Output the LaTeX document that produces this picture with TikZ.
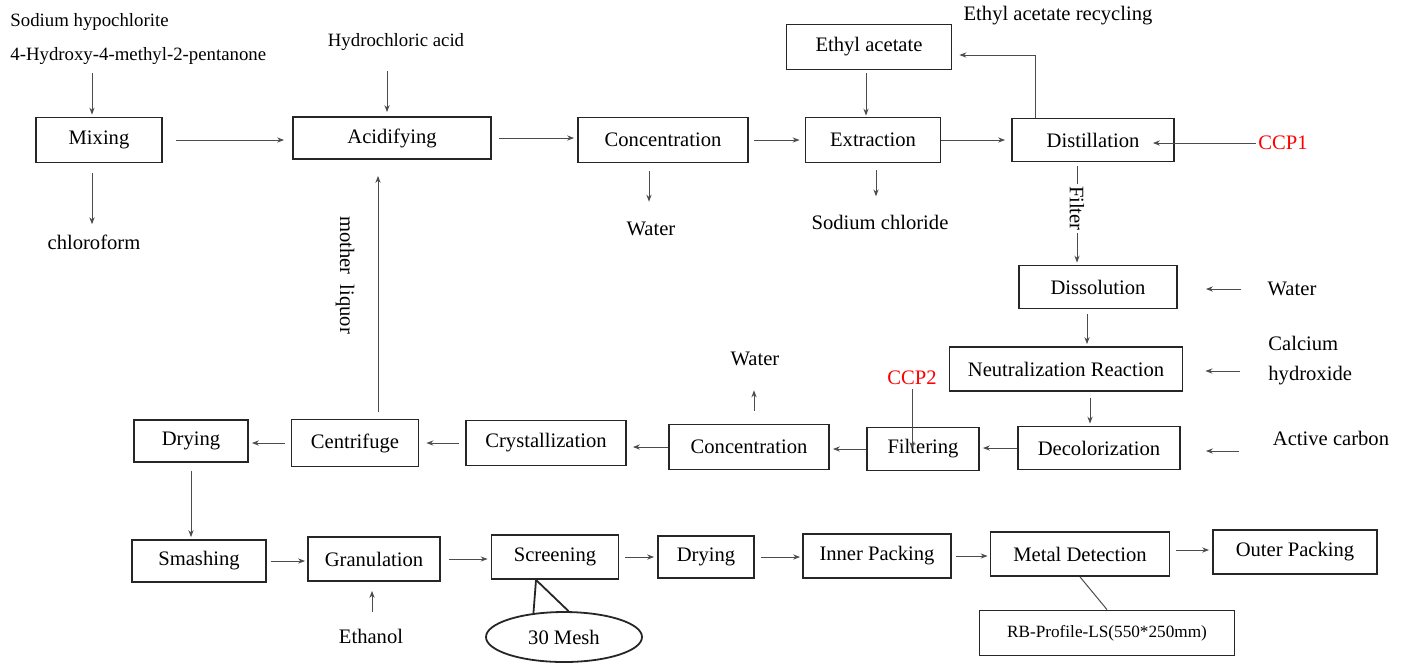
\documentclass[tikz,border=0pt]{standalone}
\usepackage{fontspec}
\setmainfont{Liberation Serif}
\usetikzlibrary{arrows.meta,shapes.geometric}
\begin{document}
\begin{tikzpicture}[x=0.5pt,y=-0.5pt,
box/.style={draw=black!85,line width=0.9pt,inner sep=0pt,font=\fontsize{10.3}{12}\selectfont},
lbl/.style={inner sep=1pt,font=\fontsize{10.3}{12}\selectfont},
slbl/.style={inner sep=1pt,font=\fontsize{9.4}{11}\selectfont},
ccp/.style={lbl,text=red},
arr/.style={-{Stealth[length=3.5pt,width=2.6pt]},line width=0.5pt,draw=black!70},
link/.style={line width=0.5pt,draw=black!70}]
\useasboundingbox (0,0) rectangle (1406,666);
% process boxes
\node[box,minimum width=63pt,minimum height=22.5pt](mix) at (99,140){Mixing};
\node[box,minimum width=99pt,minimum height=21pt](acid) at (392,138){Acidifying};
\node[box,minimum width=85pt,minimum height=22.5pt](conca) at (663,140){Concentration};
\node[box,minimum width=67.5pt,minimum height=22.5pt](extr) at (873,140){Extraction};
\node[box,minimum width=81pt,minimum height=21.5pt](dist) at (1093,140){Distillation};
\node[box,minimum width=82.5pt,minimum height=22.5pt](ethyl) at (869,47){Ethyl acetate};
\node[box,minimum width=79pt,minimum height=21.5pt](diss) at (1098,287){Dissolution};
\node[box,minimum width=116.5pt,minimum height=22pt](neut) at (1066,369){Neutralization Reaction};
\node[box,minimum width=81pt,minimum height=21.5pt](decol) at (1099,448){Decolorization};
\node[box,minimum width=56pt,minimum height=21.5pt](filt) at (923,449){Filtering};
\node[box,minimum width=80pt,minimum height=22.5pt](concb) at (749,447){Concentration};
\node[box,minimum width=80pt,minimum height=22.5pt](cryst) at (546,443){Crystallization};
\node[box,minimum width=63.5pt,minimum height=23.5pt](centr) at (355,443){Centrifuge};
\node[box,minimum width=57pt,minimum height=21pt](drya) at (191,441){Drying};
\node[box,minimum width=67pt,minimum height=21pt](smash) at (199,561){Smashing};
\node[box,minimum width=66pt,minimum height=22pt](gran) at (374,559){Granulation};
\node[box,minimum width=63.5pt,minimum height=22pt](screen) at (555,557){Screening};
\node[box,minimum width=48pt,minimum height=21pt](dryb) at (706,557){Drying};
\node[box,minimum width=74pt,minimum height=22pt](inner) at (877,556){Inner Packing};
\node[box,minimum width=89.5pt,minimum height=22pt](metal) at (1080,554){Metal Detection};
\node[box,minimum width=82pt,minimum height=22pt](outer) at (1295,552){Outer Packing};
\node[box,minimum width=127.5pt,minimum height=22.5pt,font=\fontsize{8.6}{10}\selectfont](rb) at (1107,633){RB-Profile-LS(550*250mm)};
\node[box,ellipse,minimum width=78pt,minimum height=25pt](mesh) at (564,637){30 Mesh};
% labels
\node[slbl,anchor=west](naclo) at (8,22){Sodium hypochlorite};
\node[slbl,anchor=west](hmp) at (8,56){4-Hydroxy-4-methyl-2-pentanone};
\node[lbl](chl) at (94,242){chloroform};
\node[slbl](hcl) at (396,42){Hydrochloric acid};
\node[lbl](wa) at (651,229){Water};
\node[lbl](nacl) at (880,222){Sodium chloride};
\node[lbl](rec) at (1058,16){Ethyl acetate recycling};
\node[ccp](ccpa) at (1283,143){CCP1};
\node[lbl](wb) at (1292,289){Water};
\node[lbl,align=left,font=\fontsize{10.3}{15}\selectfont,anchor=west](ca) at (1266,361){Calcium\\hydroxide};
\node[lbl](ac) at (1331,438){Active carbon};
\node[ccp](ccpb) at (912,378){CCP2};
\node[lbl](wc) at (755,359){Water};
\node[lbl](eth) at (371,636){Ethanol};
% connectors
\draw[arr,shorten <=3pt,shorten >=1pt]([xshift=-3.5pt]mix.north |- hmp.south)--([xshift=-3.5pt]mix.north);
\draw[arr,shorten <=5pt,shorten >=4pt]([xshift=-3.5pt]mix.south)--([xshift=-3.5pt]mix.south |- chl.north);
\draw[arr,shorten <=6.5pt,shorten >=4pt](mix.east)--(mix.east -| acid.west);
\draw[arr,shorten <=9pt,shorten >=2pt]([xshift=-2.5pt]acid.north |- hcl.south)--([xshift=-2.5pt]acid.north);
\draw[arr,shorten <=3.5pt,shorten >=1.5pt](acid.east)--(acid.east -| conca.west);
\draw[arr,shorten <=4pt,shorten >=9pt]([xshift=-7pt]conca.south)--([xshift=-7pt]conca.south |- wa.north);
\draw[arr,shorten <=2.5pt,shorten >=2.5pt](conca.east)--(extr.west);
\draw[arr,shorten <=1.5pt,shorten >=0.5pt]([xshift=-1.5pt]ethyl.south)--([xshift=-1.5pt]ethyl.south |- extr.north);
\draw[arr,shorten <=3.5pt,shorten >=8pt]([xshift=1.5pt]extr.south)--([xshift=1.5pt]extr.south |- nacl.north);
\draw[arr,shorten >=3pt](extr.east)--(dist.west);
\draw[arr,shorten >=3.5pt]([xshift=-29pt]dist.north) |- ([yshift=-4pt]ethyl.east);
\draw[arr](ccpa.west)--([xshift=-11pt]dist.east |- ccpa.west);
\draw[arr,shorten <=2pt,shorten >=1pt]([xshift=-8pt]dist.south)--node[lbl,fill=white,rotate=-90,pos=0.45]{Filter}([xshift=-8pt]dist.south |- diss.north);
\draw[arr,shorten <=12pt,shorten >=14pt](wb.west)--(wb.west -| diss.east);
\draw[arr,shorten <=2.5pt,shorten >=1pt]([xshift=-5.5pt]diss.south)--([xshift=-5.5pt]diss.south |- neut.north);
\draw[arr,shorten <=13pt,shorten >=11pt]([yshift=-5pt]ca.west)--([yshift=-5pt]ca.west -| neut.east);
\draw[arr,shorten <=3pt,shorten >=1pt]([xshift=12pt]neut.south)--([xshift=12pt]neut.south |- decol.north);
\draw[arr,shorten <=16pt,shorten >=12.5pt]([yshift=-6.5pt]ac.west)--([yshift=-6.5pt]ac.west -| decol.east);
\draw[arr,shorten >=1.5pt](decol.west)--(decol.west -| filt.east);
\draw[arr,shorten <=1pt](ccpb.south)--(ccpb.south |- filt.center);
\draw[arr,shorten >=1.5pt](filt.west)--(filt.west -| concb.east);
\draw[arr,shorten <=6.5pt,shorten >=11pt]([xshift=2.5pt]concb.north)--([xshift=2.5pt]concb.north |- wc.south);
\draw[arr,shorten >=3pt](concb.west)--(concb.west -| cryst.east);
\draw[arr,shorten <=3pt,shorten >=3.5pt](cryst.west)--(centr.east);
\draw[arr,shorten <=3pt,shorten >=1.5pt](centr.west)--(centr.west -| drya.east);
\draw[arr,shorten <=3.5pt,shorten >=8pt]([xshift=11.5pt]centr.north)--([xshift=11.5pt]centr.north |- acid.south);
\node[lbl,rotate=-90](ml) at (345,275){mother\ \ liquor};
\draw[arr,shorten <=4pt,shorten >=1pt](drya.south)--(drya.south |- smash.north);
\draw[arr,shorten <=2pt,shorten >=1pt](smash.east)--(smash.east -| gran.west);
\draw[arr,shorten <=7pt,shorten >=4.5pt]([xshift=-1pt]gran.south |- eth.north)--([xshift=-1pt]gran.south);
\draw[arr,shorten <=4pt,shorten >=1.5pt](gran.east)--(gran.east -| screen.west);
\draw[arr,shorten <=3pt,shorten >=1.5pt](screen.east)--(screen.east -| dryb.west);
\draw[arr,shorten <=3pt,shorten >=1pt](dryb.east)--(dryb.east -| inner.west);
\draw[arr,shorten <=2pt,shorten >=1pt](inner.east)--(inner.east -| metal.west);
\draw[arr,shorten <=3pt,shorten >=1.5pt]([yshift=2pt]metal.east)--([yshift=2pt]metal.east -| outer.west);
\draw[link](metal.south)--(rb.north);
\coordinate (meshtip) at ([xshift=-9.5pt]screen.south);
\draw[line width=0.9pt,draw=black!85](mesh.142)--(meshtip)--(mesh.80);
\end{tikzpicture}
\end{document}
